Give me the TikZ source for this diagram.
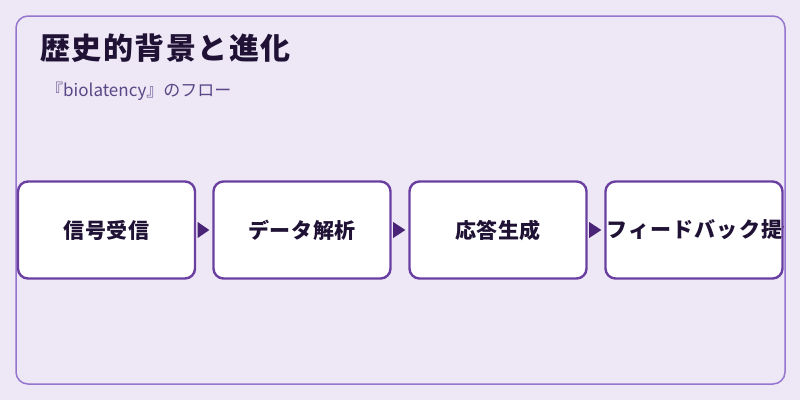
\documentclass[tikz,border=0pt]{standalone}
\usepackage{fontspec}
\setmainfont{Noto Sans CJK JP}
\usetikzlibrary{arrows.meta}
\definecolor{bgc}{HTML}{EDE7F6}
\definecolor{framec}{HTML}{9575CD}
\definecolor{boxc}{HTML}{6A3FA0}
\definecolor{arrc}{HTML}{4A2577}
\definecolor{titlec}{HTML}{1F1235}
\definecolor{subc}{HTML}{5A4785}
\tikzset{
  stepbox/.style={draw=boxc, line width=2.4pt, fill=white, rounded corners=10pt,
    minimum width=177pt, minimum height=97pt, inner sep=0pt},
  steptext/.style={font=\fontsize{21}{24}\selectfont\bfseries\addfontfeature{LetterSpace=2.5}, text=titlec},
  flowarrow/.style={draw=none, fill=arrc},
}
\begin{document}
\begin{tikzpicture}[x=1pt,y=-1pt]
\useasboundingbox (0,0) rectangle (800,400);
\fill[bgc] (0,0) rectangle (800,400);
\draw[framec, line width=1.5pt, rounded corners=12pt] (16,16) rectangle (785,384);
\node[anchor=base west, font=\fontsize{30}{34}\selectfont\bfseries\addfontfeature{LetterSpace=5}, text=titlec, inner sep=0pt] (title) at (40,59) {歴史的背景と進化};
\node[anchor=base west, font=\fontsize{17}{20}\selectfont, text=subc, inner sep=0pt] (sub) at (46,96) {『biolatency』のフロー};
\node[stepbox] (b1) at (106.5,230) {};
\node[stepbox] (b2) at (302,230) {};
\node[stepbox] (b3) at (498,230) {};
\node[stepbox] (b4) at (694,230) {};
\node[steptext] (t1) at (b1.center) {信号受信};
\node[steptext] (t2) at (b2.center) {データ解析};
\node[steptext] (t3) at (b3.center) {応答生成};
\begin{scope}
\clip ([xshift=1.2pt]b4.north west) rectangle ([xshift=-0.5pt]b4.south east);
\node[steptext, anchor=west, inner sep=0pt, font=\fontsize{21}{24}\selectfont\bfseries\addfontfeature{LetterSpace=5.5}] (t4) at ([xshift=2pt]b4.west) {フィードバック提供};
\end{scope}
\foreach \a/\b in {b1/b2,b2/b3,b3/b4}{
  \path[flowarrow] ([xshift=1.5pt]\a.east) -- ([xshift=1.5pt,yshift=-8pt]\a.east) -- ([xshift=-3pt]\b.west) -- ([xshift=1.5pt,yshift=8pt]\a.east) -- cycle;
}
\end{tikzpicture}
\end{document}
